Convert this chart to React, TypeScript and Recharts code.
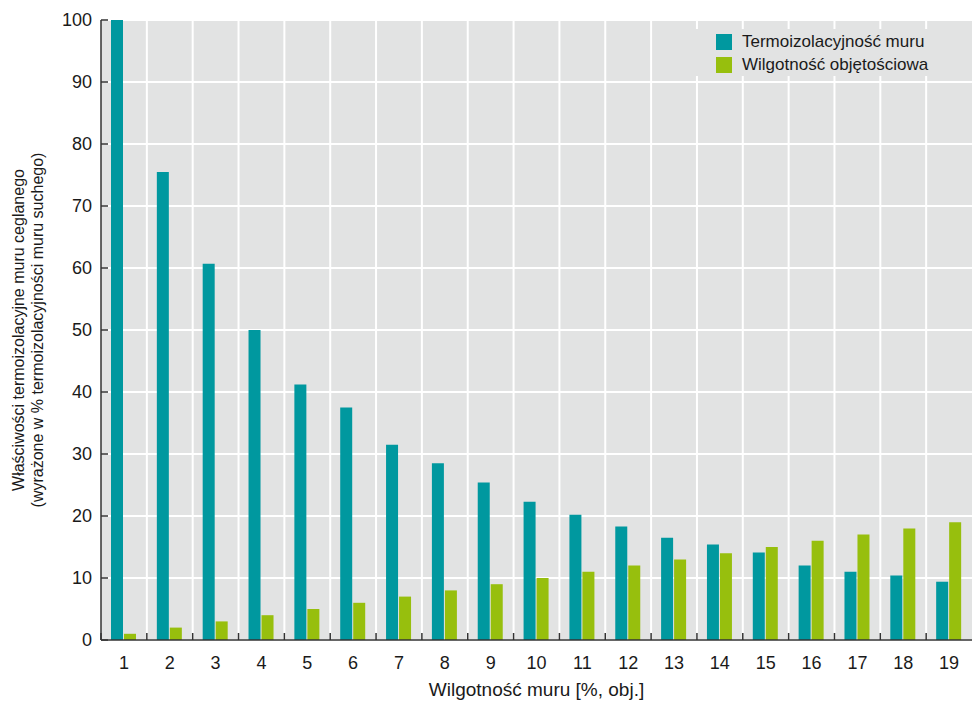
import React from 'react'
import { Bar, BarChart, CartesianGrid, Label, XAxis, YAxis } from 'recharts'

const categories = ['1', '2', '3', '4', '5', '6', '7', '8', '9', '10', '11', '12', '13', '14', '15', '16', '17', '18', '19']
const thermal = [100, 75.5, 60.7, 50, 41.2, 37.5, 31.5, 28.5, 25.4, 22.3, 20.2, 18.3, 16.5, 15.4, 14.1, 12, 11, 10.4, 9.4]
const moisture = [1, 2, 3, 4, 5, 6, 7, 8, 9, 10, 11, 12, 13, 14, 15, 16, 17, 18, 19]
const yTicks = [0, 10, 20, 30, 40, 50, 60, 70, 80, 90, 100]

const seriesNames = ['Termoizolacyjność muru', 'Wilgotność objętościowa']
const colors = ['#00989f', '#97bf0d']
const axisColor = '#333333'
const bg = '#e2e3e3'
const font = '"Liberation Sans", Arial, sans-serif'

const data = categories.map((c, i) => ({ name: c, thermal: thermal[i], moisture: moisture[i] }))

function XTick(props: any) {
  const { x, y, payload, width } = props
  const half = payload?.offset ?? (width ? width / categories.length / 2 : 22.9)
  return (
    <g>
      <line x1={x - half} x2={x - half} y1={y} y2={y - 7} stroke={axisColor} strokeWidth={1.5} />
      <text x={x} y={y + 29} textAnchor="middle" fontSize={18} fill="#1a1a1a" fontFamily={font}>
        {payload.value}
      </text>
    </g>
  )
}

function YTick(props: any) {
  const { x, y, payload } = props
  return (
    <g>
      <line x1={x} x2={x + 7} y1={y} y2={y} stroke={axisColor} strokeWidth={1.5} />
      <text x={x - 9} y={y + 6} textAnchor="end" fontSize={18} fill="#1a1a1a" fontFamily={font}>
        {payload.value}
      </text>
    </g>
  )
}

function YTitle(props: any) {
  const vb = props.viewBox || {}
  const cy = vb.y + vb.height / 2
  return (
    <g transform={`translate(0, ${cy}) rotate(-90)`}>
      <text x={0} y={24} textAnchor="middle" fontSize={16} fill="#1a1a1a" fontFamily={font}>
        Właściwości termoizolacyjne muru ceglanego
      </text>
      <text x={0} y={43} textAnchor="middle" fontSize={16} fill="#1a1a1a" fontFamily={font}>
        (wyrażone w % termoizolacyjności muru suchego)
      </text>
    </g>
  )
}

export default function App() {
  return (
    <div style={{ position: 'fixed', left: 0, top: 0, width: 972, height: 701, background: '#fff' }}>
      <BarChart
        width={972}
        height={701}
        data={data}
        margin={{ top: 20, right: 0, left: 0, bottom: 0 }}
        barSize={12}
        barGap={1}
      >
        <CartesianGrid
          fill={bg}
          stroke="#ffffff"
          strokeWidth={2}
          verticalCoordinatesGenerator={({ offset }: any) =>
            categories.slice(1).map((_, i) => offset.left + ((i + 1) * offset.width) / categories.length)
          }
        />
        <XAxis
          dataKey="name"
          height={61}
          tickSize={0}
          tickMargin={0}
          tickLine={false}
          stroke={axisColor}
          strokeWidth={1.5}
          interval={0}
          tick={<XTick />}
        >
          <Label
            value="Wilgotność muru [%, obj.]"
            position="insideBottom"
            offset={5}
            fontSize={19}
            fill="#1a1a1a"
            fontFamily={font}
          />
        </XAxis>
        <YAxis
          width={101}
          domain={[0, 100]}
          ticks={yTicks}
          tickSize={0}
          tickMargin={0}
          tickLine={false}
          stroke={axisColor}
          strokeWidth={1.5}
          interval={0}
          tick={<YTick />}
          label={{ content: <YTitle /> }}
        />
        <Bar dataKey="thermal" name={seriesNames[0]} fill={colors[0]} isAnimationActive={false} />
        <Bar dataKey="moisture" name={seriesNames[1]} fill={colors[1]} isAnimationActive={false} />
      </BarChart>
      <div
        style={{
          position: 'absolute',
          left: 690,
          top: 29,
          width: 282,
          height: 47,
          boxSizing: 'border-box',
          paddingLeft: 26,
          paddingTop: 1,
          fontFamily: font,
          fontSize: 17,
          color: '#1a1a1a',
          background: bg,
        }}
      >
        {seriesNames.map((n, i) => (
          <div key={n} style={{ display: 'flex', alignItems: 'center', height: 23 }}>
            <span style={{ width: 16, height: 16, background: colors[i], marginRight: 10, display: 'inline-block' }} />
            {n}
          </div>
        ))}
      </div>
    </div>
  )
}
